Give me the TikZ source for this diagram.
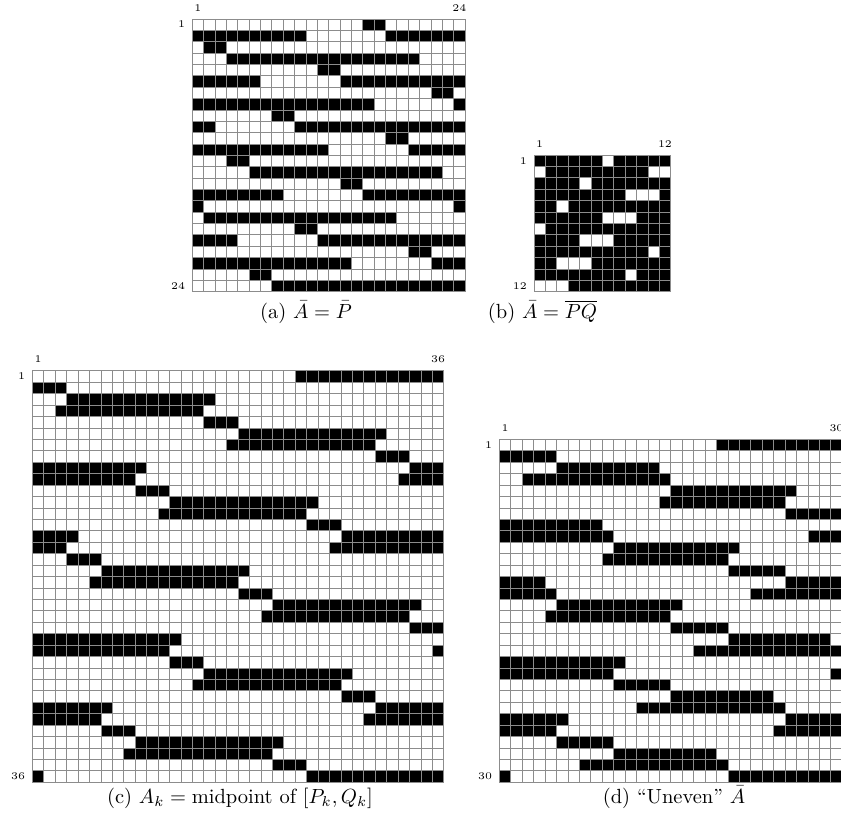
\documentclass[tikz,border=0pt]{standalone}
\tikzset{
  gridline/.style={draw=black!45, line width=0.7pt},
  idx/.style={font=\tiny, scale=2.05, inner sep=0pt},
  capt/.style={scale=2.05, inner sep=0pt, anchor=base},
}
\newcommand\mygrid[6]{%
  \begin{scope}[shift={(#1,#2)},x=#3pt,y=-#3pt]
    \foreach \r/\a/\b in {#5} {\fill[black] (\a-1,\r-1) rectangle (\b,\r);}
    \foreach \i in {0,...,#4} {\draw[gridline] (\i,0) -- (\i,#4); \draw[gridline] (0,\i) -- (#4,\i);}
    \node[idx,anchor=base] (#6t1) at (0.5,-0.7) {1};
    \node[idx,anchor=base] (#6tn) at (#4-0.5,-0.7) {#4};
    \node[idx,anchor=base east] (#6l1) at (-0.6,0.79) {1};
    \node[idx,anchor=base east] (#6ln) at (-0.6,#4-0.21) {#4};
  \end{scope}}
\begin{document}
\begin{tikzpicture}[x=1pt,y=-1pt]
\fill[white] (0,0) rectangle (841,820);
\useasboundingbox (0,0) rectangle (841,820);
% (a)
\mygrid{192.3}{19}{11.36}{24}{1/16/17, 2/1/10, 2/18/24, 3/2/3, 4/4/20, 5/12/13, 6/1/6, 6/14/24, 7/22/23, 8/1/16, 8/24/24, 9/8/9, 10/1/2, 10/10/24, 11/18/19, 12/1/12, 12/20/24, 13/4/5, 14/6/22, 15/14/15, 16/1/8, 16/16/24, 17/1/1, 17/24/24, 18/2/18, 19/10/11, 20/1/4, 20/12/24, 21/20/21, 22/1/14, 22/22/24, 23/6/7, 24/8/24}{ga}
% (b)
\mygrid{534}{155}{11.39}{12}{1/1/6, 1/8/12, 2/2/10, 3/1/4, 3/6/12, 4/1/8, 4/12/12, 5/1/2, 5/4/12, 6/1/6, 6/10/12, 7/2/12, 8/1/4, 8/8/12, 9/1/10, 9/12/12, 10/1/2, 10/6/12, 11/1/8, 11/10/12, 12/4/12}{gb}
% (c)
\mygrid{32.3}{370.7}{11.43}{36}{1/24/36, 2/1/3, 3/4/16, 4/3/15, 5/16/18, 6/19/31, 7/18/30, 8/31/33, 9/1/10, 9/34/36, 10/1/9, 10/33/36, 11/10/12, 12/13/25, 13/12/24, 14/25/27, 15/1/4, 15/28/36, 16/1/3, 16/27/36, 17/4/6, 18/7/19, 19/6/18, 20/19/21, 21/22/34, 22/21/33, 23/34/36, 24/1/13, 25/1/12, 25/36/36, 26/13/15, 27/16/28, 28/15/27, 29/28/30, 30/1/7, 30/31/36, 31/1/6, 31/30/36, 32/7/9, 33/10/22, 34/9/21, 35/22/24, 36/1/1, 36/25/36}{gc}
% (d)
\mygrid{499.3}{439.3}{11.43}{30}{1/20/30, 2/1/5, 3/6/14, 4/3/15, 5/16/26, 6/15/25, 7/26/30, 8/1/9, 9/1/10, 9/28/30, 10/11/21, 11/10/20, 12/21/25, 13/1/4, 13/26/30, 14/1/5, 14/23/30, 15/6/16, 16/5/15, 17/16/20, 18/21/29, 19/18/30, 20/1/11, 21/1/10, 21/30/30, 22/11/15, 23/16/24, 24/13/25, 25/1/6, 25/26/30, 26/1/5, 26/25/30, 27/6/10, 28/11/19, 29/8/20, 30/1/1, 30/21/30}{gd}
% captions
\node[capt] (capa) at (306,318) {(a) $\bar{A}=\bar{P}$};
\node[capt] (capb) at (542.5,318) {(b) $\bar{A}=\overline{PQ}$};
\node[capt] (capc) at (240,803) {(c) $A_k=\mbox{midpoint of }[P_k,Q_k]$};
\node[capt] (capd) at (674,803) {(d) ``Uneven'' $\bar{A}$};
\end{tikzpicture}
\end{document}
